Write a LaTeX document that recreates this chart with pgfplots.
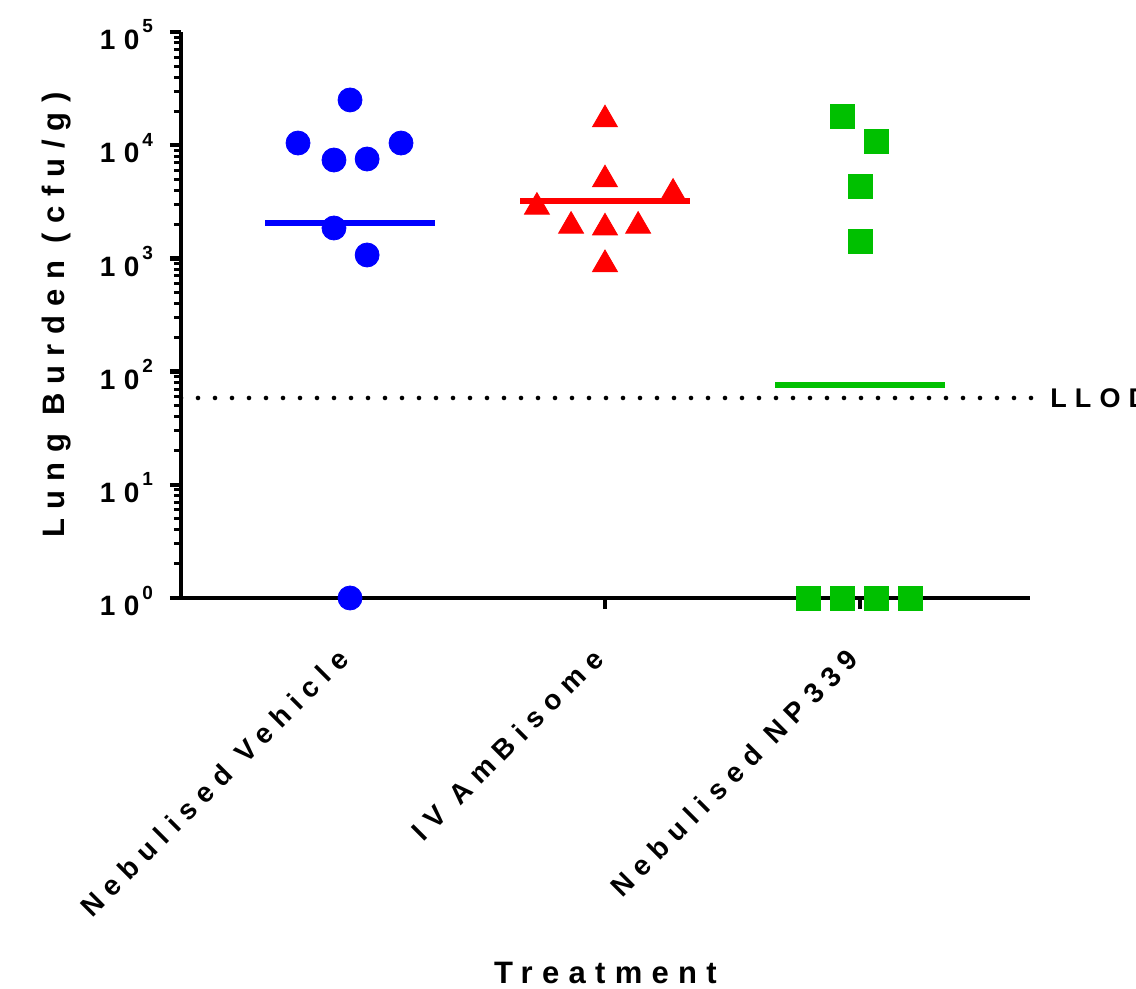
\documentclass[border=0pt]{standalone}
\usepackage{fontspec}
\setmainfont{Liberation Sans}[LetterSpace=30]
\usepackage{pgfplots}
\pgfplotsset{compat=1.18}
\definecolor{pblue}{RGB}{0,0,255}
\definecolor{pred}{RGB}{255,0,0}
\definecolor{pgreen}{RGB}{0,192,0}
\newcommand{\tl}[1]{10\hspace{1.5pt}\raisebox{0.6em}{\fontsize{9.5}{10}\selectfont\bfseries #1}}
\begin{document}
\begin{tikzpicture}
\begin{axis}[
  scale only axis, width=424.5pt, height=283pt,
  ymode=log, ymin=1, ymax=100000,
  xmin=-0.663, xmax=2.667,
  axis x line*=bottom, axis y line*=left,
  axis line style={-, line width=2pt},
  clip=false,
  tick pos=left,
  tick align=outside,
  xtick={0,1,2},
  xticklabels={Nebulised Vehicle, IV AmBisome, Nebulised NP339},
  ytick={1,10,100,1000,10000,100000},
  yticklabels={\tl{0},\tl{1},\tl{2},\tl{3},\tl{4},\tl{5}},
  minor ytick={2,3,4,5,6,7,8,9,20,30,40,50,60,70,80,90,200,300,400,500,600,700,800,900,2000,3000,4000,5000,6000,7000,8000,9000,20000,30000,40000,50000,60000,70000,80000,90000},
  major tick length=5.5pt, minor tick length=3.5pt,
  major tick style={line width=2.2pt, black},
  minor tick style={line width=1.5pt, black},
  tick label style={font=\fontsize{14}{16}\selectfont\bfseries},
  yticklabel style={xshift=-5pt, yshift=-1.5pt},
  xticklabel style={yshift=-20pt, xshift=-1pt, rotate=45, anchor=east},
  xlabel={Treatment},
  ylabel={Lung Burden (cfu/g)},
  every axis x label/.style={at={(axis description cs:0.5,0)}, anchor=base, yshift=-192.5pt, font=\fontsize{15.5}{18}\selectfont\bfseries},
  every axis y label/.style={at={(axis description cs:0,0.5)}, xshift=-62pt, rotate=90, anchor=center, font=\fontsize{15.5}{18}\selectfont\bfseries},
]
% LLOD
\addplot[black, line width=2.3pt, line cap=round, dash pattern=on 0pt off 8.5pt] coordinates {(-0.663,58.5) (2.7,58.5)};
\node[anchor=west, inner sep=0pt, font=\fontsize{13.5}{15}\selectfont\bfseries, xshift=10pt] at (axis cs:2.667,58.5) {LLOD};
% means
\addplot[pblue, line width=3pt] coordinates {(-0.333,2055) (0.333,2055)};
\addplot[pred, line width=3pt] coordinates {(0.667,3213) (1.333,3213)};
\addplot[pgreen, line width=3pt] coordinates {(1.667,75.5) (2.333,75.5)};
% Nebulised Vehicle
\addplot[only marks, mark=*, mark size=6pt, color=pblue, mark options={draw=pblue, fill=pblue}] coordinates {
(0,25100) (-0.204,10450) (-0.063,7400) (0.067,7550) (0.2,10450) (-0.063,1856) (0.067,1072) (0,1)};
% IV AmBisome
\addplot[only marks, mark=triangle*, mark size=7.2pt, color=pred, mark options={draw=pred, fill=pred}] coordinates {
(1,16830) (1,4966) (1.267,3783) (0.733,2845) (0.867,1933) (1,1867) (1.13,1933) (1,885)};
% Nebulised NP339
\addplot[only marks, mark=square*, mark size=6pt, color=pgreen, mark options={draw=pgreen, fill=pgreen}] coordinates {
(1.93,17860) (2.063,10820) (2,4300) (2,1405) (1.796,1) (1.93,1) (2.063,1) (2.196,1)};
\end{axis}
\pgfresetboundingbox
\path[use as bounding box] (-90.5pt,-195.5pt) rectangle (477.5pt,299pt);
\end{tikzpicture}
\end{document}
